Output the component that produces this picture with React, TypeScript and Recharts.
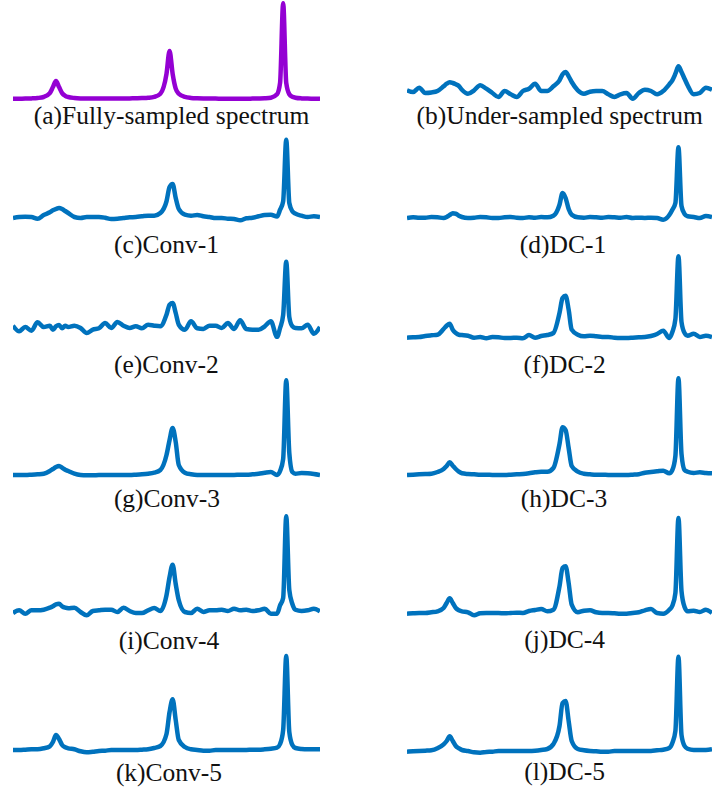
import { LineChart, Line, XAxis, YAxis } from "recharts";

// frequency axis in % of the spectral width (denser around the three peaks)
const freq = [
  0, 2, 4, 6, 8, 10, 12,
  13, 14, 15, 16, 17, 18,
  20, 22, 24, 26, 28, 30, 32, 34, 36, 38, 40, 42, 44, 46, 48,
  50, 51, 52, 53, 54,
  56, 58, 60, 62, 64, 66, 68, 70, 72, 74, 76, 78, 80, 82, 84, 86,
  87, 88, 89, 90, 91, 92,
  94, 96, 98, 100,
];

// intensities (px above each panel's baseline)
const fullySampled = [
  0.2, 0.3, 0.4, 0.6, 1.0, 2.0, 5.9,
  11.9, 18, 11.9, 5.9, 3.2, 2.0,
  1.0, 0.6, 0.5, 0.4, 0.4, 0.4, 0.4, 0.5, 0.5, 0.6, 0.7, 0.9, 1.2, 2.1, 5.3,
  25.2, 48, 25.2, 10.4, 5.3,
  2.1, 1.1, 0.7, 0.5, 0.4, 0.4, 0.3, 0.3, 0.3, 0.3, 0.3, 0.4, 0.5, 0.7, 1.3, 4.7,
  16.2, 95.7, 16.2, 4.7, 2.2, 1.3,
  0.6, 0.4, 0.3, 0.2,
];
const underSampled = [
  0.7, -1, 3.3, -2, -1.5, 0, 4.7,
  7.3, 8.7, 8, 6.7, 5, 1.3,
  -2.7, 0.7, 5.7, 2.3, -2, -6, 0, -3.3, -6, 0, 2.3, 7.3, 0, 0, 4.7,
  10.7, 16.7, 19, 14.7, 9,
  0.7, -2.7, -0.7, 0, 0, -3.3, -6, -3.3, -2, -7.7, -2, 1.3, 0, -3.3, 0, 6.7,
  10.7, 17.3, 24.7, 19, 12.3, 5.7,
  -3.3, -2, 3.3, 1.3,
];
const conv1 = [
  0, 1, 1.3, 1, -0.7, 3, 5.7,
  7.7, 9, 10, 9, 7, 5,
  1, 0, 1, 1, 1, 0.3, -1, -0.7, 0, 0.7, 1, 1.7, 2.3, 2.3, 5,
  16.7, 31, 34, 20, 9,
  3.3, 2.3, 3, 1.7, 1, 0, 0, -0.7, -1, -2.3, -0.3, 0.3, 1.7, 3, 3.3, 1.5,
  8.3, 16.7, 78.3, 15, 6.7, 4.3,
  2.3, 1, 1.7, 1,
];
const dc1 = [
  0, 0.7, 0.3, 0.3, 1, 0.7, 0,
  1, 3, 4.7, 4.3, 2.3, 1,
  0, 0.3, 1, 0.7, 0, 0, 0.7, 1, 0.3, 0, 0.7, 0.3, 1, 0.7, 2.3,
  13.3, 25, 20, 9, 3.3,
  0.7, 0.3, 1, 0.7, 0.3, 1, 0.7, 0.3, 1, 0, 0.3, 0, 0.3, 0, -1.7, 3,
  8.3, 15, 70.7, 12, 4, 1.7,
  1, 0, 2, 1,
];
const conv2 = [
  1.3, -4.3, 0, -3.7, 4.7, 0, 1.3,
  -2.7, 0.7, 2, -1.3, 1.3, 0,
  1.3, -1, -6, -2.7, -1.3, 4, -1, 5, 1.3, -1, 0.7, -1.3, 2.3, 1.3, 0.7,
  12.3, 22.3, 24, 14, 2.3,
  -2.7, 5.7, -1.3, -2, 1.3, 1.3, -1, 4, -2, 6.7, -2, -2.7, -2.7, 0.7, 5.7, -10,
  -1, 12, 65.3, 10, 0.7, -1,
  -1.3, 2.3, -6.7, 0,
];
const dc2 = [
  -0.7, -0.3, 0, 1, 1.7, 2.3, 8,
  11.3, 13.3, 7.3, 4, 2.3, 2,
  1.3, -0.7, 0, -1.3, 0, -0.3, -1, -1, -0.7, -1.3, 2, -0.7, 1, 2, 4,
  24, 39, 41.3, 27.3, 7.3,
  2.3, 0.7, 1.3, 0.7, 0, 0, -0.7, -1, -1, -0.7, -0.3, 0, 1, 3, 6.3, -1,
  5, 18, 80.7, 15, 4, 1.3,
  3.3, 0, 1.3, 0,
];
const conv3 = [
  0, 0, 0, 0.3, 0.7, 1.3, 4,
  6, 8, 9, 7.3, 5.3, 4,
  1.3, 0, -0.3, -0.3, 0, 0, 0, 0, 0, 0, 0.3, 0.7, 1.3, 2.3, 5,
  20, 35, 47, 33, 10,
  2.3, 0.7, 0, 0, 0, 0, 0, 0, 0, 0.3, 0.3, 0.7, 1.3, 2.3, 3, 0,
  4, 16, 94.7, 22, 3, 1.3,
  2, 1.7, 1, 0,
];
const dc3 = [
  -1, -0.7, -0.3, 0, 0.3, 2, 5,
  8, 11.7, 8.3, 5, 2.3, 0.7,
  0, -0.3, -0.7, -0.7, -1, -1, -1, -0.7, -0.3, 0, 0.7, 1.7, 2.3, 2.3, 6,
  30, 46.7, 44, 26, 8,
  2.3, 0.3, -0.3, -0.7, -0.7, -1, -1, -1, -1, -0.7, -0.3, 1.3, 2, 2.7, 3.3, 0.7,
  4, 18, 95.7, 20, 4, 2.3,
  1, 1.7, 1, 0.7,
];
const conv4 = [
  -1, 1.7, -1.7, 1.7, 1.7, 2.3, 4.3,
  5.7, 7.7, 8.3, 5.7, 4.3, 3.7,
  4.3, 0, -3.3, 1, 1.7, 2.3, 2.3, 0, 4.3, 1, -1, -1, 1.7, 4, 1,
  16.7, 35, 47.3, 28, 11.7,
  0, -1, 3.3, 0, 1.7, 1.7, 2.3, 1, 3.3, 1.7, 2.3, 1, 1.7, 3.3, -1.7, -1.7,
  6.7, 14, 95.7, 22, 8, 2.3,
  1, 1.7, 3.3, 0.7,
];
const dc4 = [
  -0.7, -0.3, 0, 0, 0.7, 1.7, 5,
  10, 14.7, 10, 5, 2.7, 1.7,
  0.7, -2.3, -0.3, 0, 0, 0, -0.3, 0, 0.3, 0, 2, 3, 4, 1.7, 3.3,
  26.7, 45, 46.7, 30, 8.3,
  0.7, 2.3, 2.7, 0.7, 0, 0, -0.3, -0.7, -0.7, 0, 0.7, 2.7, 4, 0, -0.7, 3.3,
  7.3, 20, 95, 22, 6, 1.7,
  2.3, 1, 3.3, 0,
];
const conv5 = [
  0, 0, 0.3, 0.7, 0.7, 1.7, 3.7,
  8, 15, 11, 5, 2.7, 1.7,
  0.7, -1.3, -2.3, -1.7, -1, -0.7, 0, 0, 0, 0, 0, 0.3, 0.7, 2, 4,
  16, 38, 50.7, 30, 10,
  3, 0.7, 0, -0.7, -0.7, 0, 0, 0, 0, 0, 0, 0.3, 0.3, 0.7, 1.3, 2.3,
  6, 20, 94, 18, 5, 2,
  1, 0.7, 0.7, 0.7,
];
const dc5 = [
  -0.7, -0.3, 0, 0.3, 0.7, 2.7, 6.7,
  10, 14.7, 10, 5, 2.7, 1,
  0, -1.3, -1.7, -1, -0.7, 0, 0, 0, 0, 0, 0, 0.3, 1, 2, 7,
  25, 48, 50, 30, 10,
  2, 0.7, 0, -0.3, -0.7, -0.7, 0, 0, 0, 0, 0, 0, 0, 0.7, 1.3, 3,
  8, 20, 94.3, 16, 5, 2.3,
  1, 1, 1, 1.7,
];

const captions = [
  "(a)Fully-sampled spectrum", "(b)Under-sampled spectrum",
  "(c)Conv-1", "(d)DC-1",
  "(e)Conv-2", "(f)DC-2",
  "(g)Conv-3", "(h)DC-3",
  "(i)Conv-4", "(j)DC-4",
  "(k)Conv-5", "(l)DC-5",
];
const series = [
  fullySampled, underSampled,
  conv1, dc1, conv2, dc2, conv3, dc3, conv4, dc4, conv5, dc5,
];

// layout: baseline (px) of each trace and of each caption, caption centres
const traceBase = [99, 90.7, 218.3, 218.3, 327.3, 337.3, 474.7, 474, 611.7, 613.3, 750, 751];
const captionBase = [124, 124, 253, 253, 373, 373, 507, 507, 649, 648, 781, 780];
const captionX = [171.5, 559.7, 166.5, 563, 166.3, 564.7, 167, 564, 169, 564.7, 169, 564.6];

const BLUE = "#0072bd";
const PURPLE = "#9400d3";
const FONT = 25.5;
const CHART_H = 116;

function Spectrum({ values, color, left, top, width }: {
  values: number[];
  color: string;
  left: number;
  top: number;
  width: number;
}) {
  const data = freq.map((x, i) => ({ x, y: values[i] }));
  return (
    <div style={{ position: "absolute", left, top }}>
      <LineChart
        width={width}
        height={CHART_H}
        data={data}
        margin={{ top: 2, right: 2, bottom: 2, left: 2 }}
      >
        <XAxis type="number" dataKey="x" domain={[0, 100]} allowDataOverflow hide />
        <YAxis type="number" domain={[-12, 100]} allowDataOverflow hide />
        <Line
          type="monotone"
          dataKey="y"
          stroke={color}
          strokeWidth={4.5}
          strokeLinejoin="round"
          dot={false}
          isAnimationActive={false}
        />
      </LineChart>
    </div>
  );
}

export default function App() {
  return (
    <div
      style={{
        position: "absolute",
        left: 0,
        top: 0,
        width: 716,
        height: 794,
        background: "#fff",
        overflow: "hidden",
      }}
    >
      {series.map((values, i) => {
        const right = i % 2 === 1;
        return (
          <Spectrum
            key={i}
            values={values}
            color={i === 0 ? PURPLE : BLUE}
            left={right ? 405 : 11}
            width={right ? 309 : 311}
            top={traceBase[i] - 102}
          />
        );
      })}
      {captions.map((c, i) => (
        <div
          key={c}
          style={{
            position: "absolute",
            left: captionX[i] - 200,
            width: 400,
            top: captionBase[i] - 0.8375 * FONT,
            lineHeight: `${FONT}px`,
            fontSize: FONT,
            fontFamily: "'Liberation Serif', 'Times New Roman', serif",
            color: "#111",
            textAlign: "center",
            whiteSpace: "nowrap",
          }}
        >
          {c}
        </div>
      ))}
    </div>
  );
}
